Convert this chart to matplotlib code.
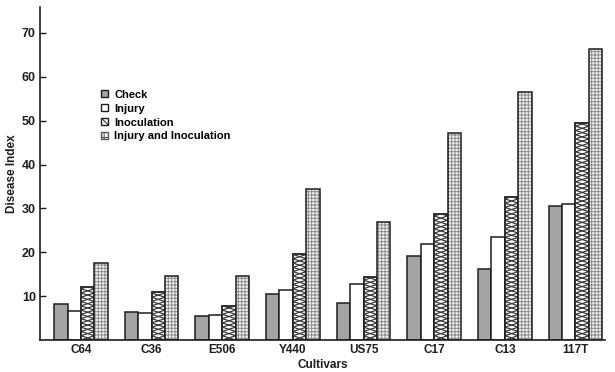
import matplotlib
matplotlib.use("Agg")
import matplotlib.pyplot as plt
import numpy as np
from matplotlib.patches import Patch

cultivars = ["C64", "C36", "E506", "Y440", "US75", "C17", "C13", "117T"]
check = [8.1, 6.3, 5.4, 10.5, 8.4, 19.2, 16.1, 30.5]
injury = [6.7, 6.1, 5.6, 11.4, 12.8, 22.0, 23.4, 31.1]
inoculation = [12.1, 11.0, 7.7, 19.5, 14.4, 28.7, 32.6, 49.4]
injury_inoc = [17.5, 14.6, 14.6, 34.5, 26.8, 47.1, 56.6, 66.3]
yticks = [10, 20, 30, 40, 50, 60, 70]

plt.rcParams['font.family'] = ['Liberation Sans', 'DejaVu Sans']
plt.rcParams['hatch.linewidth'] = 0.7

ink = '#1e1e1e'
fig = plt.figure(figsize=(6.15, 3.72), dpi=100)
ax = fig.add_axes([0.065, 0.086, 0.919, 0.895])

x = np.arange(len(cultivars))
w = 0.19
offs = [-1.5 * w, -0.5 * w, 0.5 * w, 1.5 * w]

ax.bar(x + offs[0], check, w, facecolor='#a4a4a4', edgecolor=ink, linewidth=1.1, zorder=2)
ax.bar(x + offs[1], injury, w, facecolor='white', edgecolor=ink, linewidth=1.1, zorder=2)
inoc_bars = ax.bar(x + offs[2], inoculation, w, facecolor='white', edgecolor=ink, linewidth=1.3, zorder=2)
# crossed zigzag pattern (flattened diamonds) inside each inoculation bar
d = 1.95  # diamond height in data units
for rect in inoc_bars:
    x0 = rect.get_x()
    x1 = x0 + rect.get_width()
    h = rect.get_height()
    n = int(np.ceil(h / (d / 2))) + 1
    ys = np.arange(n + 1) * d / 2
    xa = np.where(np.arange(n + 1) % 2 == 0, x0, x1)
    xb = np.where(np.arange(n + 1) % 2 == 0, x1, x0)
    for xs in (xa, xb):
        ln, = ax.plot(xs, ys, color='#333333', linewidth=0.85, zorder=2.5)
        ln.set_clip_path(rect)
# fine dotted grid for injury & inoculation
ax.bar(x + offs[3], injury_inoc, w, facecolor='#f2f2f2', edgecolor='#8c8c8c', linewidth=0, hatch='+++++', zorder=2)
ax.bar(x + offs[3], injury_inoc, w, facecolor='none', edgecolor=ink, linewidth=1.1, zorder=3)

ax.set_xlim(-0.58, 7.42)
ax.set_ylim(0, 75.9)
ax.set_yticks(yticks)
ax.set_yticklabels([str(t) for t in yticks], fontsize=9, fontweight='bold', color=ink)
ax.set_xticks(x)
ax.set_xticklabels(cultivars, fontsize=8.5, fontweight='bold', color=ink)
ax.tick_params(axis='x', length=0, pad=3)
ax.tick_params(axis='y', length=4.5, width=1.0, direction='in', pad=3, color=ink)
for s in ['top', 'right']:
    ax.spines[s].set_visible(False)
for s in ['left', 'bottom']:
    ax.spines[s].set_linewidth(1.2)
    ax.spines[s].set_color(ink)

ax.set_ylabel("Disease Index", fontsize=8.5, fontweight='bold', color=ink, labelpad=3)
ax.set_xlabel("Cultivars", fontsize=8.5, fontweight='bold', color=ink, labelpad=2)

handles = [
    Patch(facecolor='#a4a4a4', edgecolor=ink, label='Check'),
    Patch(facecolor='white', edgecolor=ink, label='Injury'),
    Patch(facecolor='white', edgecolor=ink, hatch='xx', label='Inoculation'),
    Patch(facecolor='#eeeeee', edgecolor='#555555', hatch='++', label='Injury and Inoculation'),
]
ax.legend(handles=handles, loc='upper left', bbox_to_anchor=(0.1, 0.765), frameon=False,
          prop={'size': 8, 'weight': 'bold'}, handlelength=0.6, handleheight=0.6, handletextpad=0.6,
          labelspacing=0.35, borderaxespad=0)

fig.savefig("out.png", dpi=100)
